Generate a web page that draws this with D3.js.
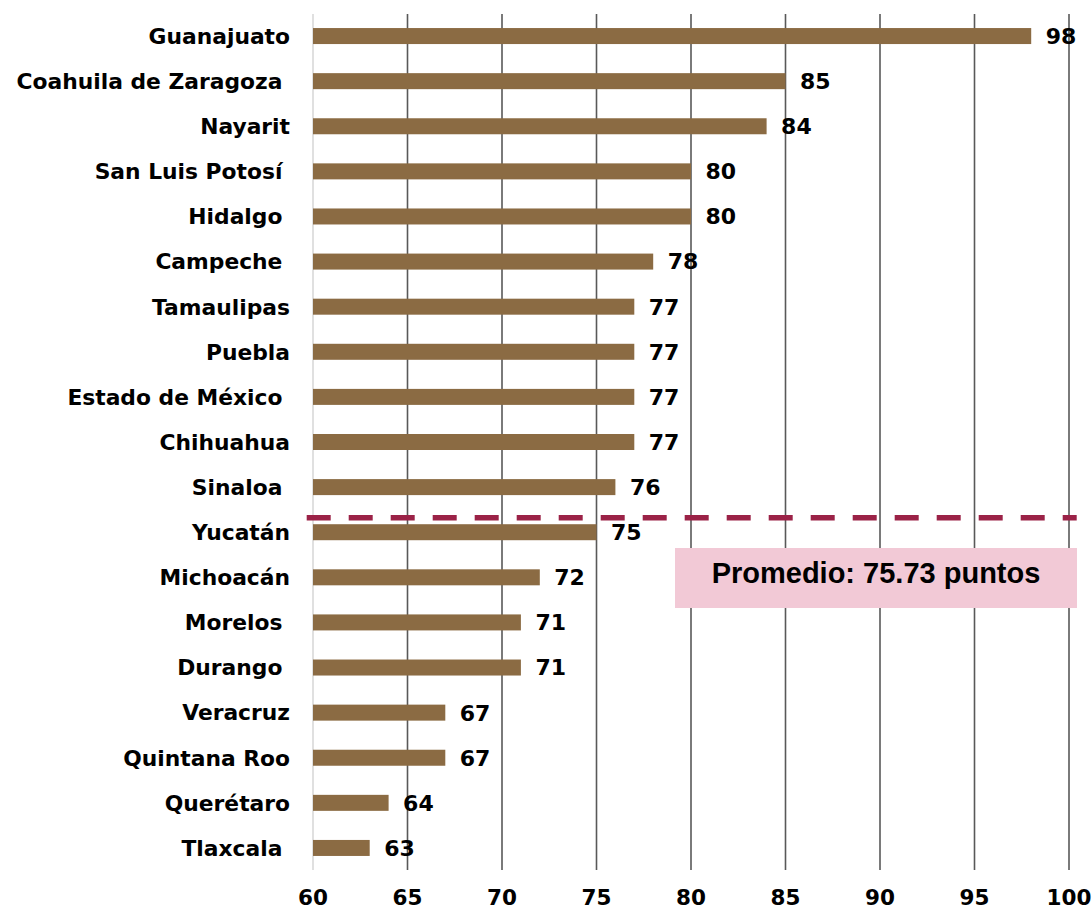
<!DOCTYPE html>
<html>
<head>
<meta charset="utf-8">
<script src="https://cdn.jsdelivr.net/npm/d3@7"></script>
<style>
  html, body { margin: 0; padding: 0; background: #fff; }
  svg { display: block; }
  .cat { white-space: pre; }
</style>
</head>
<body>
<svg id="chart" width="1092" height="911"></svg>
<script>
const categories = ["Guanajuato", "Coahuila de Zaragoza ", "Nayarit", "San Luis Potosí ", "Hidalgo ",
  "Campeche ", "Tamaulipas", "Puebla", "Estado de México ", "Chihuahua", "Sinaloa ", "Yucatán",
  "Michoacán", "Morelos ", "Durango ", "Veracruz", "Quintana Roo", "Querétaro", "Tlaxcala "];
const values = [98, 85, 84, 80, 80, 78, 77, 77, 77, 77, 76, 75, 72, 71, 71, 67, 67, 64, 63];
const xTicks = [60, 65, 70, 75, 80, 85, 90, 95, 100];
const averageValue = 75.73;
const averageLabel = "Promedio: 75.73 puntos";

const svg = d3.select("#chart");
const x = d3.scaleLinear().domain([60, 100]).range([313, 1069]);
const y = d3.scaleBand().domain(categories).range([13.5, 870.5]).padding(0);
const barH = 16;
const labelFont = "'DejaVu Sans', 'Open Sans', sans-serif";

// gridlines
svg.append("g").selectAll("line").data(xTicks).join("line")
  .attr("x1", d => x(d)).attr("x2", d => x(d))
  .attr("y1", 14).attr("y2", 870)
  .attr("stroke", d => d === 60 ? "#d9d9d9" : "#595959")
  .attr("stroke-width", 1.6);

// bars
svg.append("g").selectAll("rect").data(values).join("rect")
  .attr("x", x(60))
  .attr("y", (d, i) => y(categories[i]) + y.bandwidth() / 2 - barH / 2)
  .attr("width", d => x(d) - x(60))
  .attr("height", barH)
  .attr("fill", "#8b6b43");

// value labels
svg.append("g").selectAll("text").data(values).join("text")
  .attr("x", d => x(d) + 14.5)
  .attr("y", (d, i) => y(categories[i]) + y.bandwidth() / 2)
  .attr("dy", "0.36em")
  .attr("font-family", labelFont)
  .attr("font-weight", 700)
  .attr("font-size", 22)
  .attr("fill", "#000")
  .text(d => d);

// category labels
svg.append("g").selectAll("text").data(categories).join("text")
  .attr("class", "cat")
  .attr("x", 290)
  .attr("y", d => y(d) + y.bandwidth() / 2)
  .attr("dy", "0.36em")
  .attr("text-anchor", "end")
  .attr("font-family", labelFont)
  .attr("font-weight", 700)
  .attr("font-size", 21.8)
  .attr("fill", "#000")
  .text(d => d);

// x tick labels
svg.append("g").selectAll("text").data(xTicks).join("text")
  .attr("x", d => x(d))
  .attr("y", 905)
  .attr("text-anchor", "middle")
  .attr("font-family", labelFont)
  .attr("font-weight", 700)
  .attr("font-size", 21.5)
  .attr("fill", "#000")
  .text(d => d);

// average dashed line
const iS = categories.indexOf("Sinaloa ");
const yAvg = y(categories[iS]) + y.bandwidth() / 2 + 0.68 * y.step();
svg.append("line")
  .attr("x1", 306.7).attr("x2", 1076.7)
  .attr("y1", yAvg).attr("y2", yAvg)
  .attr("stroke", "#9b2247")
  .attr("stroke-width", 5.5)
  .attr("stroke-dasharray", "24,18");

// average box
const boxX = 675, boxW = 402, boxY = 548, boxH = 60;
svg.append("rect")
  .attr("x", boxX).attr("y", boxY).attr("width", boxW).attr("height", boxH)
  .attr("fill", "#f2c9d6");
svg.append("text")
  .attr("x", boxX + boxW / 2)
  .attr("y", boxY + boxH / 2 - 5)
  .attr("dy", "0.36em")
  .attr("text-anchor", "middle")
  .attr("font-family", "'Liberation Sans', Arial, sans-serif")
  .attr("font-weight", 700)
  .attr("font-size", 29)
  .attr("fill", "#000")
  .text(averageLabel);
</script>
</body>
</html>
